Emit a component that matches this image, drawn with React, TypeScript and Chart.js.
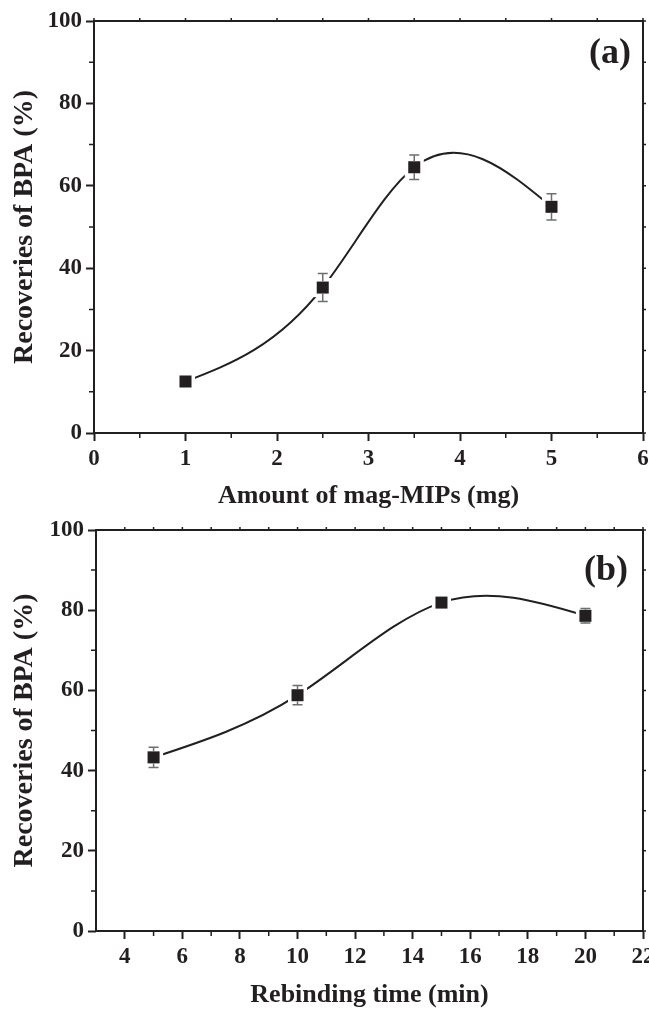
import React, { useEffect, useRef } from "react";
import { Chart, registerables } from "chart.js";

Chart.register(...registerables);

// ---------- data ----------
const amountMg = [1, 2.5, 3.5, 5];
const recoveryA = [12.5, 35.3, 64.5, 54.9];
const errorA = [0.6, 3.4, 3.0, 3.2];

const timeMin = [5, 10, 15, 20];
const recoveryB = [43.3, 58.8, 81.9, 78.6];
const errorB = [2.5, 2.4, 0.8, 1.8];

const yTitle = "Recoveries of BPA (%)";
const xTitleA = "Amount of mag-MIPs (mg)";
const xTitleB = "Rebinding time (min)";

const INK = "#231f20";
const BAR = "#6d6e71";
const SERIF = '"Liberation Serif", "Times New Roman", serif';

// natural cubic spline second derivatives
function splineM(xs: number[], ys: number[]): number[] {
  const n = xs.length;
  const M = new Array(n).fill(0);
  if (n < 3) return M;
  const h: number[] = [];
  for (let i = 0; i < n - 1; i++) h.push(xs[i + 1] - xs[i]);
  const a: number[] = [], b: number[] = [], c: number[] = [], d: number[] = [];
  for (let i = 1; i < n - 1; i++) {
    a.push(h[i - 1]);
    b.push(2 * (h[i - 1] + h[i]));
    c.push(h[i]);
    d.push(6 * ((ys[i + 1] - ys[i]) / h[i] - (ys[i] - ys[i - 1]) / h[i - 1]));
  }
  const m = b.length;
  for (let i = 1; i < m; i++) {
    const w = a[i] / b[i - 1];
    b[i] -= w * c[i - 1];
    d[i] -= w * d[i - 1];
  }
  const sol = new Array(m).fill(0);
  sol[m - 1] = d[m - 1] / b[m - 1];
  for (let i = m - 2; i >= 0; i--) sol[i] = (d[i] - c[i] * sol[i + 1]) / b[i];
  for (let i = 0; i < m; i++) M[i + 1] = sol[i];
  return M;
}

type PanelProps = {
  xs: number[];
  ys: number[];
  errs: number[];
  xMin: number;
  xMax: number;
  xStep: number;
  evenOnly?: boolean;
  xTitle: string;
  tag: string;
  tagRight: number;
  tagBaseline: number;
  top: number;
  height: number;
  padTop: number;
  yAxisWidth: number;
  xAxisHeight: number;
  xTitlePadBottom: number;
};

function Panel(p: PanelProps) {
  const ref = useRef<HTMLCanvasElement>(null);
  useEffect(() => {
    if (!ref.current) return;
    const pts = p.xs.map((x, i) => ({ x, y: p.ys[i] }));
    const half = 8.5 * Math.SQRT1_2;

    const deco = {
      id: "deco",
      beforeDatasetsDraw(chart: any) {
        const { ctx } = chart;
        const sx = chart.scales.x, sy = chart.scales.y;
        const M = splineM(p.xs, p.ys);
        const X = (v: number) => sx.getPixelForValue(v);
        const Y = (v: number) => sy.getPixelForValue(v);
        ctx.save();
        ctx.beginPath();
        ctx.moveTo(X(p.xs[0]), Y(p.ys[0]));
        for (let i = 0; i < p.xs.length - 1; i++) {
          const h = p.xs[i + 1] - p.xs[i];
          const s = (p.ys[i + 1] - p.ys[i]) / h;
          const d0 = s - (h * (2 * M[i] + M[i + 1])) / 6;
          const d1 = s + (h * (M[i] + 2 * M[i + 1])) / 6;
          ctx.bezierCurveTo(
            X(p.xs[i] + h / 3), Y(p.ys[i] + (d0 * h) / 3),
            X(p.xs[i + 1] - h / 3), Y(p.ys[i + 1] - (d1 * h) / 3),
            X(p.xs[i + 1]), Y(p.ys[i + 1])
          );
        }
        ctx.strokeStyle = INK;
        ctx.lineWidth = 2;
        ctx.stroke();
        ctx.restore();
      },
      afterDatasetsDraw(chart: any) {
        const { ctx } = chart;
        const sx = chart.scales.x, sy = chart.scales.y;
        ctx.save();
        ctx.strokeStyle = BAR;
        ctx.lineWidth = 1.5;
        for (let i = 0; i < p.xs.length; i++) {
          const x = sx.getPixelForValue(p.xs[i]);
          const yc = sy.getPixelForValue(p.ys[i]);
          const yt = sy.getPixelForValue(p.ys[i] + p.errs[i]);
          const yb = sy.getPixelForValue(p.ys[i] - p.errs[i]);
          if (yc - yt <= half) continue;
          ctx.beginPath();
          ctx.moveTo(x, yt); ctx.lineTo(x, yc - half);
          ctx.moveTo(x, yc + half); ctx.lineTo(x, yb);
          ctx.moveTo(x - 5, yt); ctx.lineTo(x + 5, yt);
          ctx.moveTo(x - 5, yb); ctx.lineTo(x + 5, yb);
          ctx.stroke();
        }
        ctx.restore();
      },
      afterDraw(chart: any) {
        const { ctx, chartArea: a } = chart;
        const sx = chart.scales.x, sy = chart.scales.y;
        ctx.save();
        ctx.strokeStyle = INK;
        // frame
        ctx.lineWidth = 2;
        ctx.strokeRect(a.left, a.top, a.right - a.left, a.bottom - a.top);
        // minor + mirrored ticks
        ctx.lineWidth = 1.5;
        const xv = sx.ticks.map((t: any) => t.value);
        const yv = sy.ticks.map((t: any) => t.value);
        const xMinor: number[] = [], yMinor: number[] = [];
        for (let i = 0; i < xv.length - 1; i++) xMinor.push((xv[i] + xv[i + 1]) / 2);
        for (let i = 0; i < yv.length - 1; i++) yMinor.push((yv[i] + yv[i + 1]) / 2);
        ctx.beginPath();
        xMinor.forEach((v) => {
          const x = sx.getPixelForValue(v);
          ctx.moveTo(x, a.bottom); ctx.lineTo(x, a.bottom + 5);
        });
        yMinor.forEach((v) => {
          const y = sy.getPixelForValue(v);
          ctx.moveTo(a.left, y); ctx.lineTo(a.left - 5, y);
        });
        xv.concat(xMinor).forEach((v: number) => {
          const x = sx.getPixelForValue(v);
          ctx.moveTo(x, a.top); ctx.lineTo(x, a.top - 3);
        });
        yv.concat(yMinor).forEach((v: number) => {
          const y = sy.getPixelForValue(v);
          ctx.moveTo(a.right, y); ctx.lineTo(a.right + 3, y);
        });
        ctx.stroke();
        // panel tag
        ctx.fillStyle = INK;
        ctx.font = `bold 36px ${SERIF}`;
        ctx.textAlign = "right";
        ctx.textBaseline = "alphabetic";
        ctx.fillText(p.tag, p.tagRight, p.tagBaseline);
        ctx.restore();
      },
    };

    const tickFont = { family: SERIF, size: 23, weight: "bold" as const };
    const titleFont = { family: SERIF, size: 26, weight: "bold" as const };

    const chart = new Chart(ref.current, {
      type: "scatter",
      data: {
        datasets: [
          {
            data: pts,
            showLine: false,
            pointStyle: "rect",
            pointRadius: 8.5,
            pointBackgroundColor: INK,
            pointBorderWidth: 0,
            order: 1,
          } as any,
          {
            data: pts,
            showLine: false,
            pointStyle: "rect",
            pointRadius: 13.5,
            pointBackgroundColor: "#ffffff",
            pointBorderWidth: 0,
            order: 2,
          } as any,
        ],
      },
      options: {
        animation: false,
        responsive: true,
        maintainAspectRatio: false,
        events: [],
        layout: { autoPadding: false, padding: { top: p.padTop, right: 6, left: 0, bottom: 0 } },
        plugins: { legend: { display: false }, tooltip: { enabled: false } },
        scales: {
          x: {
            type: "linear",
            min: p.xMin,
            max: p.xMax,
            afterBuildTicks: (s: any) => {
              if (p.evenOnly) s.ticks = s.ticks.filter((t: any) => t.value % 2 === 0);
            },
            afterFit: (s: any) => {
              s.height = p.xAxisHeight;
              s.paddingLeft = 0;
              s.paddingRight = 0;
            },
            ticks: { stepSize: p.xStep, font: tickFont, color: INK, padding: 4, maxRotation: 0, autoSkip: false },
            grid: { drawOnChartArea: false, drawTicks: true, tickLength: 8, tickWidth: 2, tickColor: INK },
            border: { display: false },
            title: { display: true, text: p.xTitle, font: titleFont, color: INK, padding: { top: 0, bottom: p.xTitlePadBottom } },
          },
          y: {
            type: "linear",
            min: 0,
            max: 100,
            afterFit: (s: any) => {
              s.width = p.yAxisWidth;
              s.paddingTop = 0;
              s.paddingBottom = 0;
            },
            ticks: { stepSize: 20, font: tickFont, color: INK, padding: 4 },
            grid: { drawOnChartArea: false, drawTicks: true, tickLength: 8, tickWidth: 2, tickColor: INK },
            border: { display: false },
            title: { display: true, text: yTitle, font: { family: SERIF, size: 28, weight: "bold" }, color: INK, padding: { top: 8, bottom: 0 } },
          },
        },
      },
      plugins: [deco as any],
    });
    return () => chart.destroy();
  }, []);
  return (
    <div style={{ position: "absolute", left: 0, top: p.top, width: 649, height: p.height }}>
      <canvas ref={ref} />
    </div>
  );
}

export default function App() {
  return (
    <div style={{ position: "absolute", left: 0, top: 0, width: 649, height: 1011, background: "#fff" }}>
      <Panel
        xs={amountMg}
        ys={recoveryA}
        errs={errorA}
        xMin={0}
        xMax={6}
        xStep={1}
        xTitle={xTitleA}
        tag="(a)"
        tagRight={631}
        tagBaseline={63}
        top={0}
        height={518}
        padTop={21}
        yAxisWidth={94}
        xAxisHeight={85}
        xTitlePadBottom={6}
      />
      <Panel
        xs={timeMin}
        ys={recoveryB}
        errs={errorB}
        xMin={3}
        xMax={22}
        xStep={2}
        evenOnly
        xTitle={xTitleB}
        tag="(b)"
        tagRight={628}
        tagBaseline={62}
        top={518}
        height={493}
        padTop={12}
        yAxisWidth={96}
        xAxisHeight={80}
        xTitlePadBottom={0}
      />
    </div>
  );
}
